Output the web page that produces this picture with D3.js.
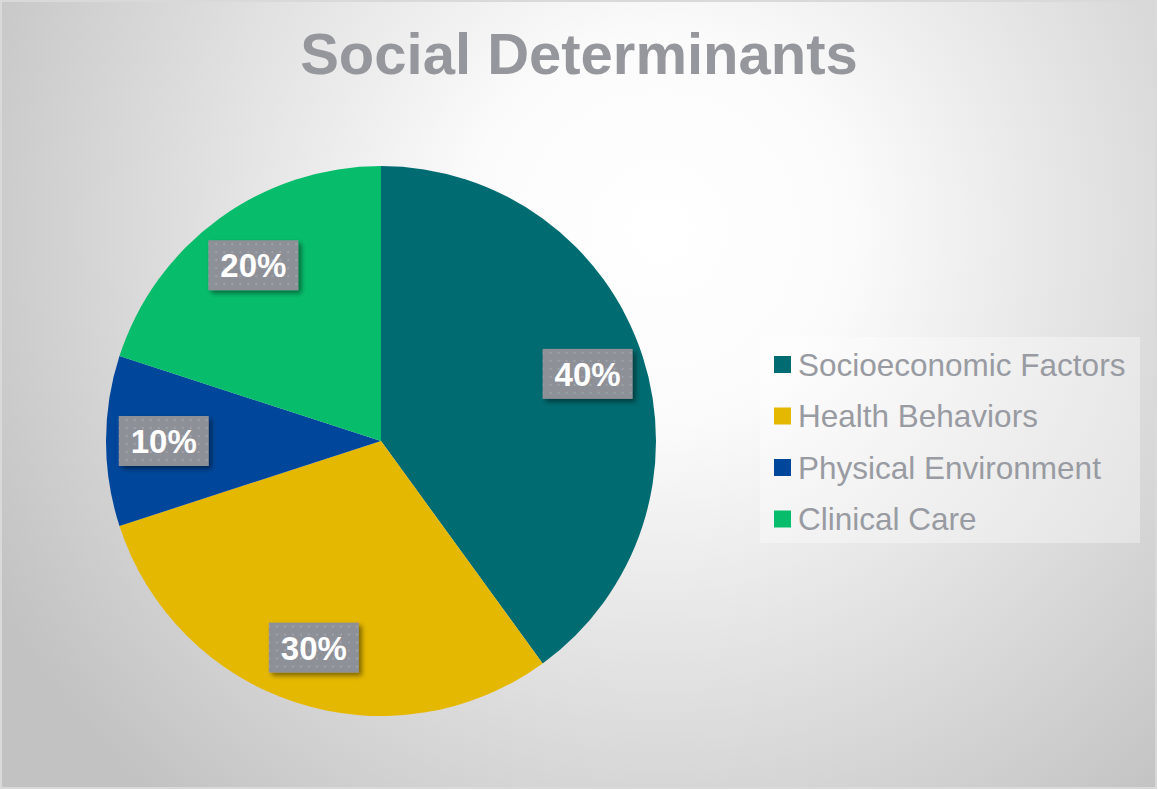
<!DOCTYPE html>
<html>
<head>
<meta charset="utf-8">
<script src="https://cdn.jsdelivr.net/npm/d3@7"></script>
<style>
  body { margin: 0; background: #fff; }
  svg { display: block; }
  text { font-family: "Liberation Sans", Arimo, Arial, sans-serif; }
</style>
</head>
<body>
<svg id="chart"></svg>
<script>
const svg_width = 1158;
const svg_height = 790;

// data
const categories = ['Socioeconomic Factors', 'Health Behaviors', 'Physical Environment', 'Clinical Care'];
const values = [40, 30, 10, 20];
const colors = ['#006b70', '#e5b800', '#00479b', '#07bd6c'];

const svg = d3.select('#chart')
  .attr('width', svg_width)
  .attr('height', svg_height);

const defs = svg.append('defs');

// background radial gradient
const bg = defs.append('radialGradient')
  .attr('id', 'bg')
  .attr('gradientUnits', 'userSpaceOnUse')
  .attr('cx', 660).attr('cy', 230).attr('r', 760);
bg.append('stop').attr('offset', '0%').attr('stop-color', '#ffffff');
bg.append('stop').attr('offset', '25%').attr('stop-color', '#fbfbfb');
bg.append('stop').attr('offset', '100%').attr('stop-color', '#c2c2c2');

// dotted pattern for label boxes
const pat = defs.append('pattern')
  .attr('id', 'dots')
  .attr('patternUnits', 'userSpaceOnUse')
  .attr('width', 8).attr('height', 8);
pat.append('rect').attr('width', 8).attr('height', 8).attr('fill', '#8e9098');
pat.append('rect').attr('x', 2).attr('y', 2).attr('width', 2).attr('height', 2).attr('fill', '#9fa1a8');

const shadow = defs.append('filter').attr('id', 'shadow')
  .attr('x', '-20%').attr('y', '-20%').attr('width', '150%').attr('height', '160%');
shadow.append('feDropShadow')
  .attr('dx', 3).attr('dy', 3).attr('stdDeviation', 2.5)
  .attr('flood-color', '#000').attr('flood-opacity', 0.45);

svg.append('rect')
  .attr('x', 1).attr('y', 1)
  .attr('width', svg_width - 3).attr('height', svg_height - 3)
  .attr('fill', 'url(#bg)')
  .attr('stroke', '#d9d9d9').attr('stroke-width', 2);

svg.append('text')
  .attr('x', 579).attr('y', 74)
  .attr('text-anchor', 'middle')
  .attr('font-weight', 'bold')
  .attr('font-size', '58px')
  .attr('fill', '#95979d')
  .text('Social Determinants');

// pie
const cx = 381, cy = 441, radius = 275;
const pie = d3.pie().sort(null).value(d => d);
const arcs = pie(values);
const arc = d3.arc().innerRadius(0).outerRadius(radius);
const labelArc = d3.arc().innerRadius(radius * 0.79).outerRadius(radius * 0.79);

const g = svg.append('g').attr('transform', `translate(${cx}, ${cy})`);

g.selectAll('path')
  .data(arcs)
  .join('path')
  .attr('d', arc)
  .attr('fill', (d, i) => colors[i]);

const labels = g.selectAll('.lbl')
  .data(arcs)
  .join('g')
  .attr('class', 'lbl')
  .attr('transform', d => `translate(${labelArc.centroid(d)})`);

labels.append('rect')
  .attr('x', -45).attr('y', -25)
  .attr('width', 90).attr('height', 50)
  .attr('fill', 'url(#dots)')
  .attr('filter', 'url(#shadow)');

labels.append('text')
  .attr('text-anchor', 'middle')
  .attr('dy', '0.36em')
  .attr('font-weight', 'bold')
  .attr('font-size', '33px')
  .attr('fill', '#ffffff')
  .text(d => d.data + '%');

// legend
const legend = svg.append('g').attr('transform', 'translate(760, 337)');
legend.append('rect')
  .attr('width', 380).attr('height', 206)
  .attr('fill', '#ffffff').attr('fill-opacity', 0.35);

const items = legend.selectAll('.item')
  .data(categories)
  .join('g')
  .attr('class', 'item')
  .attr('transform', (d, i) => `translate(14, ${27.5 + i * 51.5})`);

items.append('rect')
  .attr('x', 0).attr('y', -8.5)
  .attr('width', 17).attr('height', 17)
  .attr('fill', (d, i) => colors[i]);

items.append('text')
  .attr('x', 24)
  .attr('dy', '0.36em')
  .attr('font-size', '31.5px')
  .attr('fill', '#999ba2')
  .text(d => d);
</script>
</body>
</html>
